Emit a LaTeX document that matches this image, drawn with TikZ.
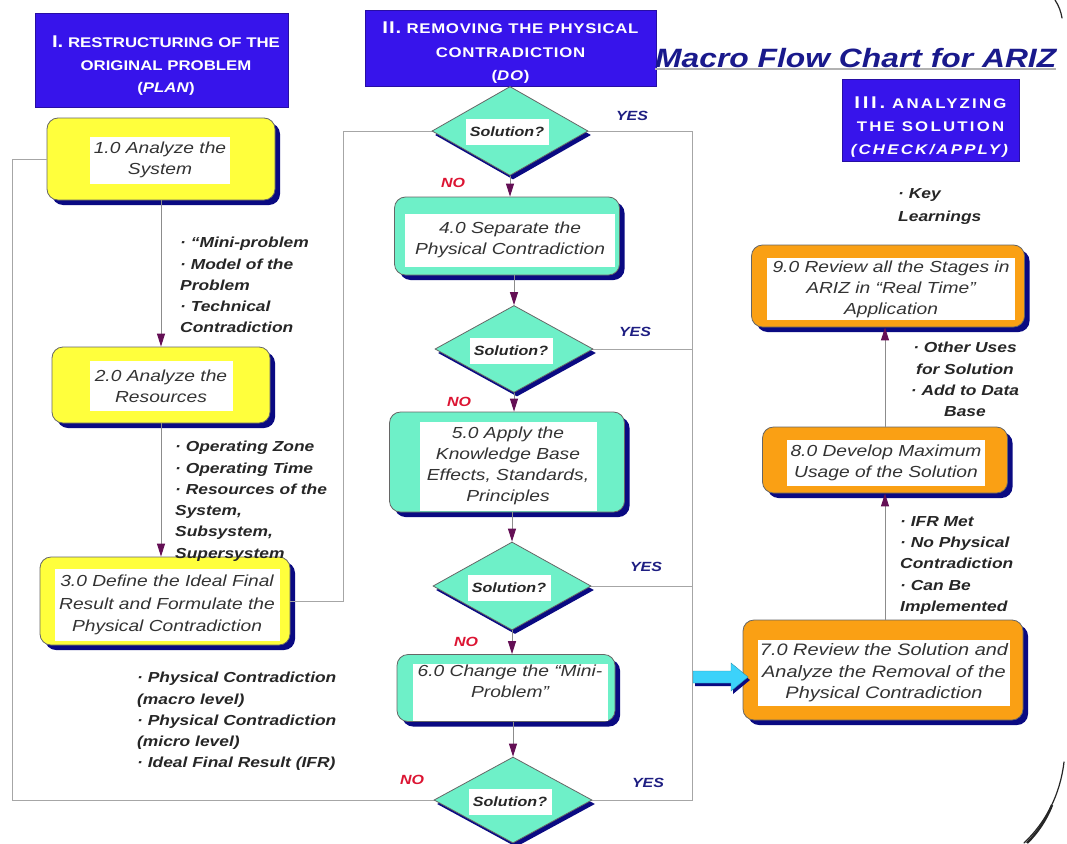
\documentclass[tikz,border=0pt]{standalone}
\usepackage{fontspec}
\setmainfont{Liberation Sans}[FakeStretch=1.2]
\usetikzlibrary{shapes.geometric,arrows.meta,shadows,calc}

\definecolor{hdrblue}{RGB}{55,20,235}
\definecolor{ttlblue}{RGB}{25,25,140}
\definecolor{shadowblue}{RGB}{10,10,130}
\definecolor{planyellow}{RGB}{255,255,60}
\definecolor{doteal}{RGB}{110,240,200}
\definecolor{chkorange}{RGB}{250,160,20}
\definecolor{tipc}{RGB}{100,15,85}
\definecolor{yescol}{RGB}{30,30,130}
\definecolor{nocol}{RGB}{220,20,50}
\definecolor{fatcyan}{RGB}{60,210,250}

\newcommand{\fsz}[2]{\fontsize{#1}{#2}\selectfont}

\begin{document}
\begin{tikzpicture}[x=1pt,y=-1pt,
  hdr/.style={fill=hdrblue, draw=hdrblue!70!black, line width=0.6pt, inner sep=0pt},
  hdrtext/.style={inner sep=0pt, text=white, font=\bfseries\fsz{14}{22.5}, align=center},
  stepbox/.style={rounded corners=11pt, draw=black!60, line width=0.8pt, inner sep=0pt,
    drop shadow={shadow xshift=5pt, shadow yshift=-5pt, fill=shadowblue, opacity=1}},
  ybox/.style={stepbox, fill=planyellow},
  tbox/.style={stepbox, fill=doteal},
  obox/.style={stepbox, fill=chkorange},
  intext/.style={fill=white, inner sep=0pt, align=center, font=\itshape\fsz{16}{21}, text=black!80},
  decision/.style={diamond, aspect=1.75, fill=doteal, draw=black!60, line width=0.8pt, inner sep=0pt,
    drop shadow={shadow xshift=3pt, shadow yshift=-4pt, fill=shadowblue, opacity=1}},
  qtext/.style={fill=white, inner sep=0pt, minimum width=83pt, minimum height=26pt,
    font=\bfseries\itshape\fsz{13.4}{16}, text=black!85},
  flow/.style={draw=black!45, line width=1pt, -{Triangle[length=13pt,width=8pt,color=tipc]}},
  loopline/.style={draw=black!35, line width=1pt},
  note/.style={font=\bfseries\itshape\fsz{14.5}{21.3}, inner sep=0pt, text=black!85},
  yes/.style={font=\bfseries\itshape\fsz{13.3}{15}, text=yescol, inner sep=0pt},
  no/.style={font=\bfseries\itshape\fsz{13.3}{15}, text=nocol, inner sep=0pt}]

\useasboundingbox (0,0) rectangle (1067,843);
\fill[white] (0,0) rectangle (1067,843);

% bus lines that collect the decisions
\coordinate (lbus) at (12,0);
\coordinate (mbus) at (343,0);
\coordinate (rbus) at (692,0);

% phase headers
\node[hdr, minimum width=253pt, minimum height=94pt] (h1) at (161.5,60) {};
\node[hdrtext] (h1t) at (166,66)
  {{\fsz{17}{22.5}I.} RESTRUCTURING OF THE\\ORIGINAL PROBLEM\\(\textit{PLAN})};
\node[hdr, minimum width=291pt, minimum height=76pt] (h2) at (510.5,48) {};
\node[hdrtext, font=\bfseries\fsz{14}{23.5}\addfontfeatures{LetterSpace=5}] (h2t) at (510.5,53)
  {{\fsz{17}{23.5}II.} REMOVING THE PHYSICAL\\CONTRADICTION\\(\textit{DO})};
\node[hdr, minimum width=177pt, minimum height=82pt] (h3) at (930.5,120) {};
\node[hdrtext, font=\bfseries\fsz{14}{23}\addfontfeatures{LetterSpace=16}] (h3t) at (930.5,127)
  {{\fsz{17}{23}III.} ANALYZING\\THE SOLUTION\\\textit{(CHECK/APPLY)}};

% title
\node[font=\bfseries\itshape\fsz{26.5}{30}, text=ttlblue, anchor=base west, inner sep=0pt] (title) at (655,67)
  {Macro Flow Chart for ARIZ};
\draw[black!30, line width=1.2pt] ([yshift=-2pt]title.base west) -- ([yshift=-2pt]title.base east);

% column I
\node[ybox, minimum width=228pt, minimum height=82pt] (b1) at (161,159) {};
\node[intext, minimum width=140pt, minimum height=47pt] (t1) at (160,160) {1.0 Analyze the\\System};
\node[ybox, minimum width=218pt, minimum height=76pt] (b2) at (161,385) {};
\node[intext, minimum width=143pt, minimum height=50pt] (t2) at (161,386) {2.0 Analyze the\\Resources};
\node[ybox, minimum width=250pt, minimum height=88pt] (b3) at (165,601) {};
\node[intext, minimum width=225pt, minimum height=72pt, font=\itshape\fsz{16}{22.5}] (t3) at (167,605)
  {3.0 Define the Ideal Final\\Result and Formulate the\\Physical Contradiction};

% loop lines (drawn under the shapes)
\draw[loopline] (b1.west) -- (b1.west -| lbus) |- (513,800);
\draw[loopline] (b3.east) -- (b3.east -| mbus) |- (510,131);
\draw[loopline] (510,131) -- (510,131 -| rbus) -- (513,800 -| rbus) -- (513,800);
\draw[loopline] (514,349) -- (514,349 -| rbus);
\draw[loopline] (512,586) -- (512,586 -| rbus);

% column II
\node[decision, minimum width=156pt, minimum height=89pt] (d1) at (510,131) {};
\node[qtext] (q1) at (507,132) {Solution?};
\node[tbox, minimum width=225pt, minimum height=78pt] (b4) at (507,236) {};
\node[intext, minimum width=210pt, minimum height=53pt] (t4) at (510,240) {4.0 Separate the\\Physical Contradiction};
\node[decision, minimum width=158pt, minimum height=87pt] (d2) at (514,349) {};
\node[qtext] (q2) at (511,351) {Solution?};
\node[tbox, minimum width=235pt, minimum height=100pt] (b5) at (507,462) {};
\node[intext, minimum width=177pt, minimum height=89pt] (t5) at (508,466)
  {5.0 Apply the\\Knowledge Base\\Effects, Standards,\\Principles};
\node[decision, minimum width=158pt, minimum height=88pt] (d3) at (512,586) {};
\node[qtext] (q3) at (509,588) {Solution?};
\node[tbox, minimum width=218pt, minimum height=67pt] (b6) at (506,688) {};
\node[intext, minimum width=195pt, minimum height=57pt] (t6) at (510,692) {6.0 Change the ``Mini-\\Problem''\\ };
\node[decision, minimum width=158pt, minimum height=86pt] (d4) at (513,800) {};
\node[qtext] (q4) at (510,802) {Solution?};

% column III
\node[obox, minimum width=273pt, minimum height=82pt] (b9) at (888,286) {};
\node[intext, minimum width=248pt, minimum height=62pt] (t9) at (891,289)
  {9.0 Review all the Stages in\\ARIZ in ``Real Time''\\Application};
\node[obox, minimum width=245pt, minimum height=66pt] (b8) at (885,460) {};
\node[intext, minimum width=198pt, minimum height=46pt] (t8) at (886,463) {8.0 Develop Maximum\\Usage of the Solution};
\node[obox, minimum width=280pt, minimum height=100pt] (b7) at (883,670) {};
\node[intext, minimum width=252pt, minimum height=66pt, font=\itshape\fsz{16.6}{21.5}] (t7) at (884,673)
  {7.0 Review the Solution and\\Analyze the Removal of the\\Physical Contradiction};

% flow arrows
\draw[flow] (b1.south) -- (b1.south |- b2.north);
\draw[flow] (b1.south |- b2.south) -- (b1.south |- b3.north);
\draw[flow] (d1.south) -- (d1.south |- b4.north);
\draw[flow] (d2.north |- b4.south) -- (d2.north);
\draw[flow] (d2.south) -- (d2.south |- b5.north);
\draw[flow] (d3.north |- b5.south) -- (d3.north);
\draw[flow] (d3.south) -- (d3.south |- b6.north);
\draw[flow] (d4.north |- b6.south) -- (d4.north);
\draw[flow] (b8.south |- b7.north) -- (b8.south);
\draw[flow] (b8.north) -- (b8.north |- b9.south);

% block arrow from the YES bus into 7.0
\coordinate (bus7) at (693,677);
\path[fill=fatcyan, draw=fatcyan!70!black, line width=0.4pt,
  drop shadow={shadow xshift=2pt, shadow yshift=-3pt, fill=shadowblue, opacity=1}]
  (bus7) ++(0,-6) -- ++(38,0) -- ++(0,-8) -- ++(17,14) -- ++(-17,14) -- ++(0,-8) -- ++(-38,0) -- cycle;

% decision labels
\node[yes] (y1) at (632,116) {YES};
\node[no]  (n1) at (453,183) {NO};
\node[yes] (y2) at (635,332) {YES};
\node[no]  (n2) at (459,402) {NO};
\node[yes] (y3) at (646,567) {YES};
\node[no]  (n3) at (466,642) {NO};
\node[no]  (n4) at (412,780) {NO};
\node[yes] (y4) at (648,783) {YES};

% outputs of each step
\node[note, anchor=north west, align=left] (o1) at (180,237)
  {· ``Mini-problem\\· Model of the\\Problem\\· Technical\\Contradiction};
\node[note, anchor=north west, align=left] (o2) at (175,441)
  {· Operating Zone\\· Operating Time\\· Resources of the\\System,\\Subsystem,\\Supersystem};
\node[note, anchor=north west, align=left] (o3) at (137,672)
  {· Physical Contradiction\\(macro level)\\· Physical Contradiction\\(micro level)\\· Ideal Final Result (IFR)};
\node[note, anchor=north west, align=left, font=\bfseries\itshape\fsz{14.5}{23}] (o4) at (898,188)
  {· Key\\Learnings};
\node[note, anchor=north, align=center] (o5) at (965,342)
  {· Other Uses\\for Solution\\· Add to Data\\Base};
\node[note, anchor=north west, align=left] (o6) at (900,516)
  {· IFR Met\\· No Physical\\Contradiction\\· Can Be\\Implemented};

% page border strokes at the right edge
\draw[black!85, line width=1.2pt, line cap=round] (1055,0) .. controls (1059,6) and (1061,12) .. (1062,18);
\draw[black!85, line width=1.2pt, line cap=round] (1064,762) .. controls (1060,795) and (1046,822) .. (1024,843);
\draw[black!85, line width=2.4pt] (1052,805) .. controls (1046,820) and (1038,832) .. (1027,843);
\end{tikzpicture}
\end{document}
